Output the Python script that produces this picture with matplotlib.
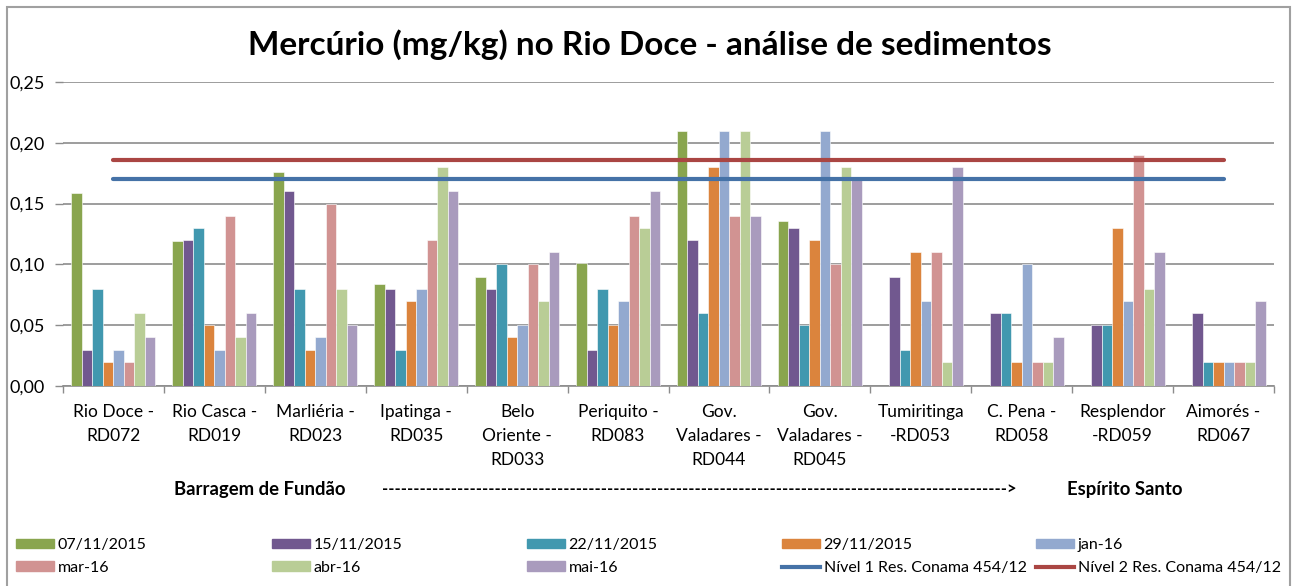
import numpy as np
import matplotlib.pyplot as plt
from matplotlib.patches import Patch, Rectangle
from matplotlib.lines import Line2D

plt.rcParams['font.family'] = ['Lato', 'DejaVu Sans']

# Sampling points along the river, upstream to downstream
estacoes = ['Rio Doce -\nRD072', 'Rio Casca -\nRD019', 'Marliéria -\nRD023',
            'Ipatinga -\nRD035', 'Belo\nOriente -\nRD033', 'Periquito -\nRD083',
            'Gov.\nValadares -\nRD044', 'Gov.\nValadares -\nRD045',
            'Tumiritinga\n-RD053', 'C. Pena -\nRD058', 'Resplendor\n-RD059',
            'Aimorés -\nRD067']

campanhas = ['07/11/2015', '15/11/2015', '22/11/2015', '29/11/2015',
             'jan-16', 'mar-16', 'abr-16', 'mai-16']

# Hg in sediment (mg/kg), one list per campaign
hg_07nov = [0.159, 0.119, 0.176, 0.084, 0.090, 0.101, 0.21, 0.136, 0, 0, 0, 0]
hg_15nov = [0.03, 0.12, 0.16, 0.08, 0.08, 0.03, 0.12, 0.13, 0.09, 0.06, 0.05, 0.06]
hg_22nov = [0.08, 0.13, 0.08, 0.03, 0.10, 0.08, 0.06, 0.05, 0.03, 0.06, 0.05, 0.02]
hg_29nov = [0.02, 0.05, 0.03, 0.07, 0.04, 0.05, 0.18, 0.12, 0.11, 0.02, 0.13, 0.02]
hg_jan16 = [0.03, 0.03, 0.04, 0.08, 0.05, 0.07, 0.21, 0.21, 0.07, 0.10, 0.07, 0.02]
hg_mar16 = [0.02, 0.14, 0.15, 0.12, 0.10, 0.14, 0.14, 0.10, 0.11, 0.02, 0.19, 0.02]
hg_abr16 = [0.06, 0.04, 0.08, 0.18, 0.07, 0.13, 0.21, 0.18, 0.02, 0.02, 0.08, 0.02]
hg_mai16 = [0.04, 0.06, 0.05, 0.16, 0.11, 0.16, 0.14, 0.17, 0.18, 0.04, 0.11, 0.07]
series = [hg_07nov, hg_15nov, hg_22nov, hg_29nov, hg_jan16, hg_mar16, hg_abr16, hg_mai16]

# CONAMA 454/12 reference levels
nivel1 = 0.17
nivel2 = 0.186

cores = ['#89A54E', '#71588F', '#4198AF', '#DB843D',
         '#93A9CF', '#D19392', '#B9CD96', '#A99BBD']
cor_n1 = '#4572A7'
cor_n2 = '#AA4643'

fig = plt.figure(figsize=(12.93, 5.86), dpi=100)
ax = fig.add_axes([63 / 1293, 1 - 386 / 586, (1274 - 63) / 1293, (386 - 82) / 586])

x = np.arange(len(estacoes))
w = 0.104
for i, (vals, c) in enumerate(zip(series, cores)):
    ax.bar(x + (i - 3.5) * w, vals, w, color=c, edgecolor='white', linewidth=0.4, zorder=3)

ax.plot(x, [nivel1] * len(x), color=cor_n1, lw=3, solid_capstyle='round', zorder=4)
ax.plot(x, [nivel2] * len(x), color=cor_n2, lw=3, solid_capstyle='round', zorder=4)

ax.set_xlim(-0.5, len(x) - 0.5)
ax.set_ylim(0, 0.25)
ax.set_yticks(np.arange(0, 0.26, 0.05))
ax.set_yticklabels([f'{v:.2f}'.replace('.', ',') for v in np.arange(0, 0.26, 0.05)], fontsize=13)
ax.yaxis.grid(True, color='#8C8C8C', lw=1.2, zorder=0)
ax.tick_params(axis='y', length=6, width=1, color='#8C8C8C', pad=7)

ax.set_xticks(x)
ax.set_xticklabels(estacoes, fontsize=12.5, linespacing=1.6, va='top')
ax.tick_params(axis='x', length=0, pad=13)
ax.set_xticks(np.arange(-0.5, len(x)), minor=True)
ax.tick_params(axis='x', which='minor', length=5, width=1, color='#8C8C8C')

for s in ['top', 'right', 'left']:
    ax.spines[s].set_visible(False)
ax.spines['bottom'].set_color('#8C8C8C')
ax.spines['bottom'].set_linewidth(1.2)

fig.text(650 / 1293, 1 - 45 / 586, 'Mercúrio (mg/kg) no Rio Doce - análise de sedimentos',
         ha='center', va='center', fontsize=24, fontweight='bold')

fig.text(260 / 1293, 1 - 490 / 586, 'Barragem de Fundão', ha='center', va='center',
         fontsize=13.3, fontweight='bold')
fig.text(382 / 1293, 1 - 490 / 586, '-' * 100 + '>', ha='left', va='center',
         fontsize=12, fontweight='bold')
fig.text(1125 / 1293, 1 - 490 / 586, 'Espírito Santo', ha='center', va='center',
         fontsize=13.3, fontweight='bold')

# legend laid out in 5 fixed-width columns, two rows
itens = [Patch(color=c, label=l) for c, l in zip(cores, campanhas)]
itens += [Line2D([], [], color=cor_n1, lw=3, label='Nível 1 Res. Conama 454/12'),
          Line2D([], [], color=cor_n2, lw=3, label='Nível 2 Res. Conama 454/12')]
linhas = [itens[0:5], itens[5:10]]
col_x = [16, 272, 527, 782, 1036]
for j, cx in enumerate(col_x):
    hs = [linhas[0][j], linhas[1][j]]
    fig.legend(handles=hs, loc='upper left', bbox_to_anchor=(cx / 1293, 1 - 538 / 586),
               frameon=False, fontsize=11.5, handlelength=2.35, handleheight=0.55,
               handletextpad=0.25, labelspacing=0.55, borderaxespad=0, borderpad=0)

fig.patches.append(Rectangle((7 / 1293, -0.05), (1290 - 7) / 1293, 1.05 - 7 / 586,
                             transform=fig.transFigure, fill=False,
                             edgecolor='#A0A0A0', lw=1.5))

fig.savefig('out.png', dpi=100)
